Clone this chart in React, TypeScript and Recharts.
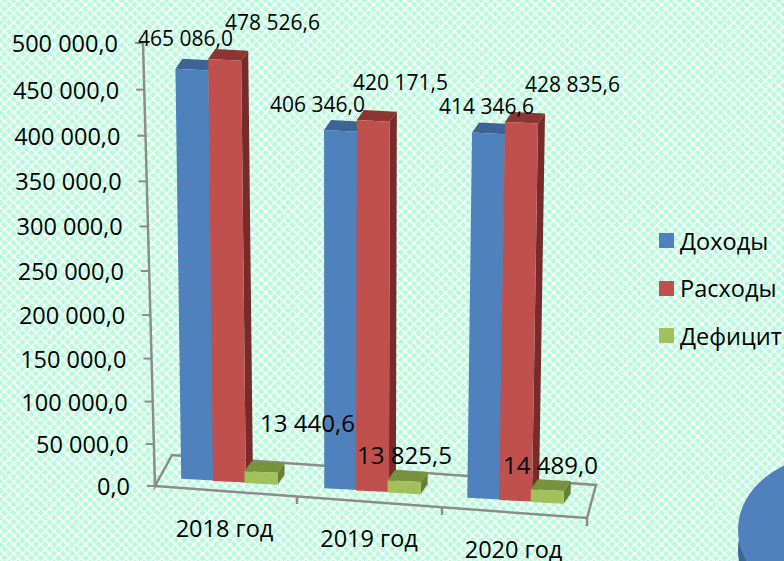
import { Bar, BarChart, LabelList, Legend, XAxis, YAxis } from "recharts";

const categories = ["2018 год", "2019 год", "2020 год"];
const incomeValues = [465086.0, 406346.0, 414346.6];
const expenseValues = [478526.6, 420171.5, 428835.6];
const deficitValues = [13440.6, 13825.5, 14489.0];
const yTicks = [0, 50000, 100000, 150000, 200000, 250000, 300000, 350000, 400000, 450000, 500000];

const data = categories.map((name, i) => ({
  name,
  income: incomeValues[i],
  expense: expenseValues[i],
  deficit: deficitValues[i],
}));

const FONT = '"Open Sans", sans-serif';
const PLOT_TOP = 43;
const PLOT_BOTTOM = 486;

// hand-placed data labels, [dx, dy] from the top of each bar
const incomeOffsets = [[-6, -36], [-23, -22], [-3, -13]];
const expenseOffsets = [[48, -40], [27, -32], [50, -22]];
const deficitOffsets = [[50, -52], [-2, -19], [-5, -9]];

const fmt = (v: number) => {
  const [whole, frac] = v.toFixed(1).split(".");
  return `${whole.replace(/\B(?=(\d{3})+$)/g, " ")},${frac}`;
};

const tile =
  "data:image/svg+xml," +
  encodeURIComponent(
    '<svg xmlns="http://www.w3.org/2000/svg" width="9" height="9"><rect width="9" height="9" fill="#b4fddb"/><path d="M0 0L9 9M9 0L0 9" stroke="#eafff6" stroke-width="2"/><circle cx="4.5" cy="4.5" r="1.6" fill="#fff"/><circle cx="0" cy="0" r="1.5" fill="#fff"/><circle cx="9" cy="0" r="1.5" fill="#fff"/><circle cx="0" cy="9" r="1.5" fill="#fff"/><circle cx="9" cy="9" r="1.5" fill="#fff"/></svg>'
  );

// fake 3D column, the chart is viewed in perspective so columns lean and the floor slopes
function Column3D(props: any) {
  const { x, width, height, fill, top, side } = props;
  const lean = (330 - x) * 0.04;
  const xBase = x + lean;
  const xTop = x + lean * (1 - height / (PLOT_BOTTOM - PLOT_TOP));
  const base = 479 + (xBase - 184) * 0.0665;
  const yTop = base - height * 0.995;
  const tilt = width * 0.05;
  const dx = 7;
  const dy = -10;
  return (
    <g>
      <polygon
        points={`${xTop + width},${yTop + tilt} ${xTop + width + dx},${yTop + tilt + dy} ${xBase + width + dx},${base + tilt + dy} ${xBase + width},${base + tilt}`}
        fill={side}
      />
      <polygon
        points={`${xTop},${yTop} ${xTop + dx},${yTop + dy} ${xTop + width + dx},${yTop + tilt + dy} ${xTop + width},${yTop + tilt}`}
        fill={top}
      />
      <polygon
        points={`${xTop},${yTop} ${xTop + width},${yTop + tilt} ${xBase + width},${base + tilt} ${xBase},${base}`}
        fill={fill}
      />
    </g>
  );
}

function YTick(props: any) {
  const { y, payload } = props;
  const t = (y - PLOT_TOP) / (PLOT_BOTTOM - PLOT_TOP);
  const yy = y + 26 * t * (1 - t);
  const axisX = 143 + 12 * t;
  return (
    <g>
      <line x1={axisX - 8} x2={axisX} y1={yy} y2={yy} stroke="#8c8c8c" strokeWidth={2} />
      <text
        x={118 + 12 * t}
        y={yy}
        textAnchor="end"
        dominantBaseline="central"
        fontFamily={FONT}
        fontSize={23.5}
        fill="#000"
      >
        {fmt(payload.value)}
      </text>
    </g>
  );
}

function XTick(props: any) {
  const { x, payload } = props;
  return (
    <text
      x={x - (x - 225) * 0.03}
      y={528 + (x - 225) * 0.07}
      textAnchor="middle"
      dominantBaseline="central"
      fontFamily={FONT}
      fontSize={23.5}
      fill="#000"
    >
      {payload.value}
    </text>
  );
}

const valueLabel = (offsets: number[][], fontSize: number) => (props: any) => {
  const { x, y, width, value, index } = props;
  const [dx, dy] = offsets[index];
  return (
    <text
      x={x + width / 2 + dx}
      y={y + dy}
      textAnchor="middle"
      dominantBaseline="central"
      fontFamily={FONT}
      fontSize={fontSize}
      fill="#000"
    >
      {fmt(value)}
    </text>
  );
};

function LegendBox({ payload }: any) {
  return (
    <div style={{ fontFamily: FONT, fontSize: 23.5, color: "#000" }}>
      {(payload ?? []).map((item: any) => (
        <div key={item.value} style={{ display: "flex", alignItems: "center", height: 47.5, whiteSpace: "nowrap" }}>
          <span style={{ width: 15, height: 15, marginRight: 6, background: item.color }} />
          {item.value}
        </div>
      ))}
    </div>
  );
}

export default function App() {
  return (
    <div
      style={{
        position: "absolute",
        left: 0,
        top: 0,
        width: 784,
        height: 561,
        overflow: "hidden",
        backgroundImage: `url("${tile}")`,
      }}
    >
      {/* floor and pie fragment sit behind the chart */}
      <svg width={784} height={561} style={{ position: "absolute", left: 0, top: 0 }}>
        <g fill="none" stroke="#8c8c8c" strokeWidth={2.5}>
          <path d="M143 43L155 486L172 455L596 485L587 518L155 486" />
          <path d="M297 497v7M442 508v7M587 518v8" />
        </g>
        <ellipse cx={832} cy={550} rx={94} ry={78} fill="#3c6494" />
        <ellipse cx={832} cy={530} rx={94} ry={75} fill="#4f81bd" />
      </svg>
      <div style={{ position: "absolute", left: 0, top: 0 }}>
        <BarChart
          width={784}
          height={561}
          data={data}
          barSize={33}
          barGap={0}
          margin={{ top: PLOT_TOP, right: 187, bottom: 0, left: 0 }}
        >
          <XAxis dataKey="name" height={561 - PLOT_BOTTOM} axisLine={false} tickLine={false} tick={<XTick />} interval={0} />
          <YAxis
            width={150}
            domain={[0, 500000]}
            ticks={yTicks}
            interval={0}
            axisLine={false}
            tickLine={false}
            tick={<YTick />}
          />
          <Legend
            layout="vertical"
            align="center"
            verticalAlign="middle"
            itemSorter={null}
            content={<LegendBox />}
            wrapperStyle={{ left: 659, top: 217, width: 125, height: 143 }}
          />
          <Bar
            dataKey="income"
            name="Доходы"
            fill="#4f81bd"
            isAnimationActive={false}
            shape={<Column3D top="#3c6494" side="#3a5f8c" />}
          >
            <LabelList dataKey="income" content={valueLabel(incomeOffsets, 21)} />
          </Bar>
          <Bar
            dataKey="expense"
            name="Расходы"
            fill="#c0504d"
            isAnimationActive={false}
            shape={<Column3D top="#8c3533" side="#772c2a" />}
          >
            <LabelList dataKey="expense" content={valueLabel(expenseOffsets, 21)} />
          </Bar>
          <Bar
            dataKey="deficit"
            name="Дефицит"
            fill="#a2c15d"
            isAnimationActive={false}
            shape={<Column3D top="#76923c" side="#66802f" />}
          >
            <LabelList dataKey="deficit" content={valueLabel(deficitOffsets, 24)} />
          </Bar>
        </BarChart>
      </div>
    </div>
  );
}
